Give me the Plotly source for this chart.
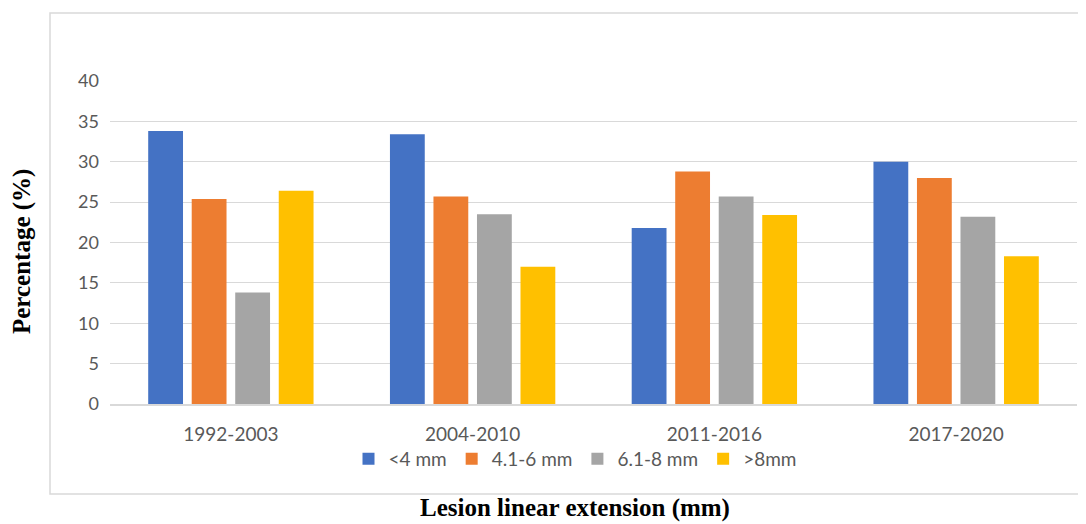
import plotly.graph_objects as go

periods = ["1992-2003", "2004-2010", "2011-2016", "2017-2020"]
series_names = ["<4 mm", "4.1-6 mm", "6.1-8 mm", ">8mm"]
lt4 = [33.8, 33.4, 21.8, 30.0]
s4_6 = [25.4, 25.7, 28.8, 28.0]
s6_8 = [13.8, 23.5, 25.7, 23.2]
gt8 = [26.4, 17.0, 23.4, 18.3]
colors = ["#4472C4", "#ED7D31", "#A5A5A5", "#FFC000"]
y_ticks = [0, 5, 10, 15, 20, 25, 30, 35, 40]

fig = go.Figure()
for name, vals, c in zip(series_names, [lt4, s4_6, s6_8, gt8], colors):
    fig.add_trace(go.Bar(x=periods, y=vals, name=name, marker=dict(color=c, line=dict(width=0))))

OFF = 8  # page body margin
W, H = 1086 - OFF, 524 - OFF
L, R, T, B = 110 - OFF, 9, 81 - OFF, 120
pw = W - L - R
ph = H - T - B

def px_x(px):
    return (px - OFF - L) / pw

def px_y(py):
    return (H - B - (py - OFF)) / ph

fig.update_layout(
    width=W, height=H,
    margin=dict(l=L, r=R, t=T, b=B),
    paper_bgcolor="white", plot_bgcolor="white",
    barmode="group", bargap=0.28, bargroupgap=0.2,
    font=dict(family="Lato, Open Sans, sans-serif", color="#595959", size=18),
    showlegend=True,
    legend=dict(orientation="h", x=px_x(575), xanchor="center", y=px_y(459), yanchor="middle",
                font=dict(size=19, color="#595959"), itemwidth=30, traceorder="normal",
                bgcolor="rgba(0,0,0,0)"),
    xaxis=dict(showgrid=False, showline=True, linecolor="#d9d9d9", linewidth=1.5,
               ticks="", tickfont=dict(size=19, color="#595959"), ticklabelstandoff=12),
    yaxis=dict(range=[0, 40], tickvals=y_ticks, showgrid=True, gridcolor="#d9d9d9", gridwidth=1.2,
               zeroline=False, showline=False, tickfont=dict(size=18, color="#595959"),
               ticklabelstandoff=10),
    shapes=[dict(type="rect", xref="paper", yref="paper",
                 x0=px_x(50), x1=px_x(1100), y0=px_y(494), y1=px_y(13),
                 line=dict(color="#d9d9d9", width=1.5), fillcolor="rgba(0,0,0,0)", layer="below")],
    annotations=[
        dict(text="<b>Percentage (%)</b>", xref="paper", yref="paper", x=px_x(22), y=px_y(252),
             textangle=-90, showarrow=False, xanchor="center", yanchor="middle",
             font=dict(family="Liberation Serif, Times New Roman, serif", size=25, color="black")),
        dict(text="<b>Lesion linear extension (mm)</b>", xref="paper", yref="paper",
             x=px_x(575), y=px_y(508), showarrow=False, xanchor="center", yanchor="middle",
             font=dict(family="Liberation Serif, Times New Roman, serif", size=25, color="black")),
    ],
)

fig.write_html("out.html")
